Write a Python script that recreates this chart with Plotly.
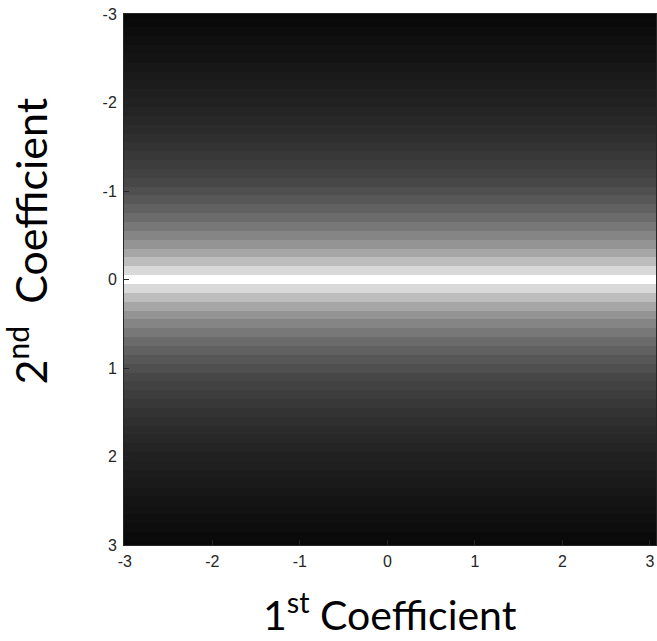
import plotly.graph_objects as go

# Intensity profile of the bands for 2nd coefficient = 0.0, 0.1, ..., 3.0
profile_pos = [1.00, 0.85, 0.74, 0.65, 0.58, 0.52, 0.47, 0.42, 0.38, 0.34,
               0.31, 0.28, 0.26, 0.24, 0.22, 0.20, 0.185, 0.17, 0.155, 0.14,
               0.13, 0.12, 0.11, 0.10, 0.09, 0.08, 0.07, 0.06, 0.05, 0.04, 0.03]
coef2 = [round(-3 + 0.1 * i, 1) for i in range(61)]
coef1 = [-3, 3]
tick_vals = [-3, -2, -1, 0, 1, 2, 3]
tick_text = ["-3", "-2", "-1", "0", "1", "2", "3"]

profile = profile_pos[::-1] + profile_pos[1:]
z = [[v for _ in coef1] for v in profile]

fig = go.Figure(go.Heatmap(
    x=coef1, y=coef2, z=z, zmin=0, zmax=1,
    colorscale=[[0, "black"], [1, "white"]], showscale=False,
))

axis_common = dict(
    tickvals=tick_vals, ticktext=tick_text, ticks="inside", ticklen=5,
    tickcolor="#262626", showline=True, linecolor="#262626", linewidth=1,
    mirror=True, showgrid=False, zeroline=False,
    tickfont=dict(family="Liberation Sans", size=16, color="#262626"),
)
fig.update_xaxes(range=[-3.01, 3.07], ticklabelstandoff=2, **axis_common)
fig.update_yaxes(range=[3, -3], ticklabelstandoff=3, **axis_common)

fig.update_layout(
    width=657, height=641,
    margin=dict(l=124, r=1, t=14, b=96),
    plot_bgcolor="white", paper_bgcolor="white",
    annotations=[
        dict(text="1<sup>st</sup> Coefficient", xref="paper", yref="paper",
             x=0.5, y=-0.127, xanchor="center", yanchor="middle", showarrow=False,
             font=dict(family="Lato", size=41, color="black")),
        dict(text="2<sup>nd</sup>  Coefficient", xref="paper", yref="paper",
             x=-0.182, y=0.572, xanchor="center", yanchor="middle", showarrow=False,
             textangle=-90,
             font=dict(family="Lato", size=43, color="black")),
    ],
)
fig.write_html("out.html")
